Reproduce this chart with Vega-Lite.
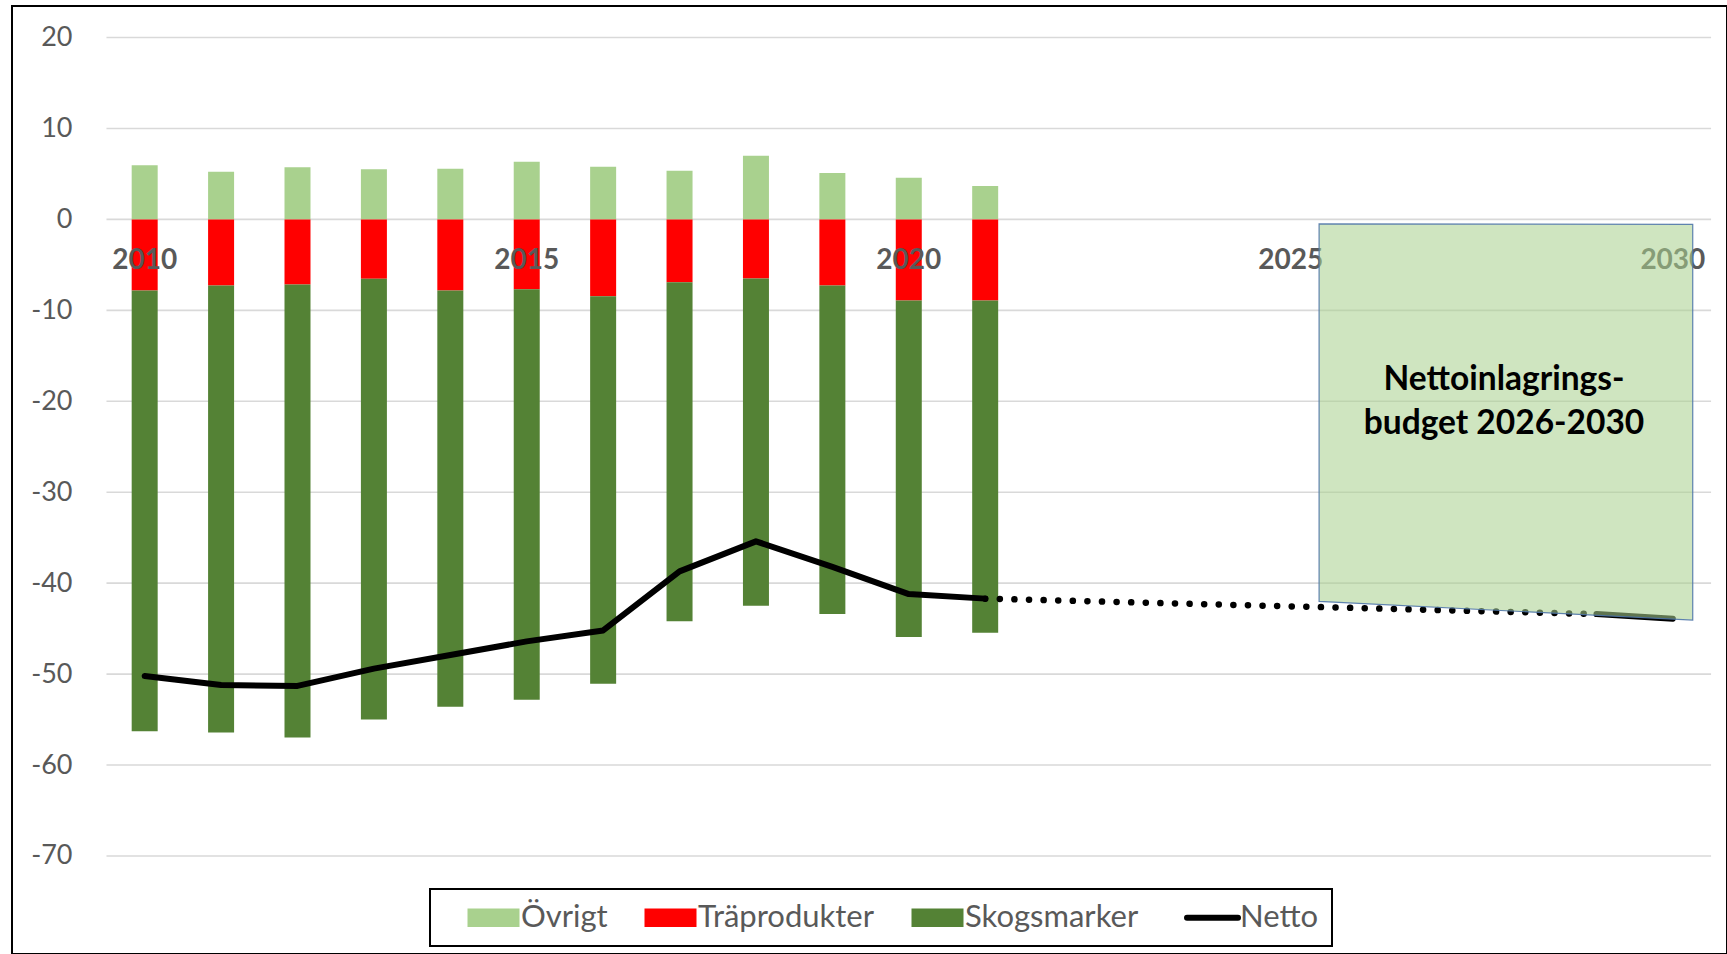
{
  "$schema": "https://vega.github.io/schema/vega-lite/v6.json",
  "width": 1715,
  "height": 948,
  "autosize": {"type": "none"},
  "padding": {"left": 12, "top": 6, "right": 0, "bottom": 0},
  "background": "white",
  "config": {
    "view": {"stroke": "black", "strokeWidth": 2},
    "axisY": {"labelFont": "Lato", "labelFontSize": 27, "labelColor": "#595959", "ticks": false, "tickSize": 0, "domain": false, "grid": false, "labelPadding": 0, "offset": -60, "title": null}
  },
  "datasets": {
    "grid": [{"value": 20}, {"value": 10}, {"value": 0}, {"value": -10}, {"value": -20}, {"value": -30}, {"value": -40}, {"value": -50}, {"value": -60}, {"value": -70}],
    "bars": [
      {"year": 2010, "category": "Övrigt", "value": 5.95}, {"year": 2010, "category": "Träprodukter", "value": -7.82}, {"year": 2010, "category": "Skogsmarker", "value": -48.46},
      {"year": 2011, "category": "Övrigt", "value": 5.25}, {"year": 2011, "category": "Träprodukter", "value": -7.27}, {"year": 2011, "category": "Skogsmarker", "value": -49.15},
      {"year": 2012, "category": "Övrigt", "value": 5.73}, {"year": 2012, "category": "Träprodukter", "value": -7.16}, {"year": 2012, "category": "Skogsmarker", "value": -49.81},
      {"year": 2013, "category": "Övrigt", "value": 5.51}, {"year": 2013, "category": "Träprodukter", "value": -6.53}, {"year": 2013, "category": "Skogsmarker", "value": -48.46},
      {"year": 2014, "category": "Övrigt", "value": 5.58}, {"year": 2014, "category": "Träprodukter", "value": -7.82}, {"year": 2014, "category": "Skogsmarker", "value": -45.78},
      {"year": 2015, "category": "Övrigt", "value": 6.35}, {"year": 2015, "category": "Träprodukter", "value": -7.67}, {"year": 2015, "category": "Skogsmarker", "value": -45.16},
      {"year": 2016, "category": "Övrigt", "value": 5.80}, {"year": 2016, "category": "Träprodukter", "value": -8.44}, {"year": 2016, "category": "Skogsmarker", "value": -42.63},
      {"year": 2017, "category": "Övrigt", "value": 5.36}, {"year": 2017, "category": "Träprodukter", "value": -6.90}, {"year": 2017, "category": "Skogsmarker", "value": -37.30},
      {"year": 2018, "category": "Övrigt", "value": 7.01}, {"year": 2018, "category": "Träprodukter", "value": -6.50}, {"year": 2018, "category": "Skogsmarker", "value": -35.98},
      {"year": 2019, "category": "Övrigt", "value": 5.10}, {"year": 2019, "category": "Träprodukter", "value": -7.27}, {"year": 2019, "category": "Skogsmarker", "value": -36.12},
      {"year": 2020, "category": "Övrigt", "value": 4.59}, {"year": 2020, "category": "Träprodukter", "value": -8.92}, {"year": 2020, "category": "Skogsmarker", "value": -37.00},
      {"year": 2021, "category": "Övrigt", "value": 3.67}, {"year": 2021, "category": "Träprodukter", "value": -8.92}, {"year": 2021, "category": "Skogsmarker", "value": -36.53}
    ],
    "netto": [
      {"year": 2010, "value": -50.2, "series": "Netto", "part": "historik"},
      {"year": 2011, "value": -51.2, "series": "Netto", "part": "historik"},
      {"year": 2012, "value": -51.3, "series": "Netto", "part": "historik"},
      {"year": 2013, "value": -49.4, "series": "Netto", "part": "historik"},
      {"year": 2014, "value": -47.9, "series": "Netto", "part": "historik"},
      {"year": 2015, "value": -46.4, "series": "Netto", "part": "historik"},
      {"year": 2016, "value": -45.2, "series": "Netto", "part": "historik"},
      {"year": 2017, "value": -38.7, "series": "Netto", "part": "historik"},
      {"year": 2018, "value": -35.4, "series": "Netto", "part": "historik"},
      {"year": 2019, "value": -38.2, "series": "Netto", "part": "historik"},
      {"year": 2020, "value": -41.2, "series": "Netto", "part": "historik"},
      {"year": 2021, "value": -41.7, "series": "Netto", "part": "historik"},
      {"year": 2029, "value": -43.4, "series": "Netto", "part": "slut"},
      {"year": 2030, "value": -43.9, "series": "Netto", "part": "slut"}
    ],
    "dotted": [{"year": 2021, "value": -41.7}, {"year": 2029, "value": -43.4}],
    "years": [{"year": 2010}, {"year": 2015}, {"year": 2020}, {"year": 2025}, {"year": 2030}],
    "box": [{"year": 2025.37, "top": -0.5, "bottom": -42.0}, {"year": 2030.26, "top": -0.55, "bottom": -44.06}]
  },
  "layer": [
    {
      "data": {"name": "grid"},
      "mark": {"type": "rule", "color": "#D9D9D9", "strokeWidth": 1.6},
      "encoding": {
        "x": {"datum": 2009.5, "type": "quantitative", "scale": {"domain": [2008.329, 2030.643], "nice": false, "zero": false}, "axis": null},
        "x2": {"datum": 2030.5},
        "y": {"field": "value", "type": "quantitative", "scale": {"domain": [-80.776, 23.464], "nice": false, "zero": false}, "axis": {"values": [20, 10, 0, -10, -20, -30, -40, -50, -60, -70], "labelExpr": "'' + datum.value"}, "title": null}
      }
    },
    {
      "data": {"name": "bars"},
      "mark": {"type": "bar", "width": 26},
      "encoding": {
        "x": {"field": "year", "type": "quantitative", "axis": null},
        "y": {"field": "value", "type": "quantitative", "stack": "zero", "title": null},
        "color": {
          "field": "category", "type": "nominal",
          "scale": {"domain": ["Övrigt", "Träprodukter", "Skogsmarker", "Netto"], "range": ["#A9D18E", "#FF0000", "#548235", "#000000"]},
          "legend": {
            "orient": "none", "legendX": 418, "legendY": 883, "direction": "horizontal", "columns": 4,
            "title": "\u00a0", "titleOrient": "left", "titlePadding": 35, "titleFontSize": 12,
            "labelFont": "Lato", "labelFontSize": 31, "labelColor": "#595959", "labelOffset": 12, "labelLimit": 500,
            "symbolSize": 2704, "symbolStrokeWidth": 0, "columnPadding": 36, "padding": 13,
            "strokeColor": "black",
            "encode": {
              "symbols": {"update": {
                "shape": {"signal": "datum.value === 'Netto' ? 'M-0.98,0H0.98' : 'M-1,-0.36H1V0.36H-1Z'"},
                "strokeWidth": {"signal": "datum.value === 'Netto' ? 6 : 0"},
                "stroke": {"signal": "datum.value === 'Netto' ? '#000000' : 'transparent'"},
                "strokeCap": {"value": "round"},
                "opacity": {"value": 1}
              }},
              "legend": {"update": {"strokeWidth": {"value": 2}}}
            }
          }
        },
        "order": {"field": "category", "sort": "descending"}
      }
    },
    {
      "data": {"name": "netto"},
      "mark": {"type": "line", "strokeWidth": 6, "strokeCap": "round", "strokeJoin": "round"},
      "encoding": {
        "x": {"field": "year", "type": "quantitative", "axis": null},
        "y": {"field": "value", "type": "quantitative", "title": null},
        "color": {"field": "series", "type": "nominal", "scale": {"domain": ["Övrigt", "Träprodukter", "Skogsmarker", "Netto"], "range": ["#A9D18E", "#FF0000", "#548235", "#000000"]}},
        "detail": {"field": "part"}
      }
    },
    {
      "data": {"name": "dotted"},
      "mark": {"type": "line", "color": "#000000", "strokeWidth": 6.5, "strokeCap": "round", "strokeDash": [0.1, 14.5]},
      "encoding": {
        "x": {"field": "year", "type": "quantitative", "axis": null},
        "y": {"field": "value", "type": "quantitative", "title": null}
      }
    },
    {
      "data": {"name": "years"},
      "mark": {"type": "text", "font": "Lato", "fontWeight": "bold", "fontSize": 28, "color": "#595959", "baseline": "middle", "align": "center", "dy": 42},
      "encoding": {
        "x": {"field": "year", "type": "quantitative", "axis": null},
        "y": {"datum": 0, "type": "quantitative"},
        "text": {"field": "year", "type": "quantitative", "format": "d"}
      }
    },
    {
      "data": {"name": "box"},
      "mark": {"type": "area", "color": "#A9D18E", "fillOpacity": 0.56, "stroke": "#4F76A8", "strokeWidth": 1.2, "strokeOpacity": 0.9},
      "encoding": {
        "x": {"field": "year", "type": "quantitative", "axis": null},
        "y": {"field": "top", "type": "quantitative", "title": null},
        "y2": {"field": "bottom"}
      }
    },
    {
      "data": {"values": [{}]},
      "mark": {"type": "text", "font": "Lato", "fontWeight": "bold", "fontSize": 33.5, "color": "#000000", "align": "center", "baseline": "middle", "lineBreak": "\n", "lineHeight": 44},
      "encoding": {
        "x": {"datum": 2027.79, "type": "quantitative"},
        "y": {"datum": -17.66, "type": "quantitative"},
        "text": {"value": "Nettoinlagrings-\nbudget 2026-2030"}
      }
    }
  ]
}
